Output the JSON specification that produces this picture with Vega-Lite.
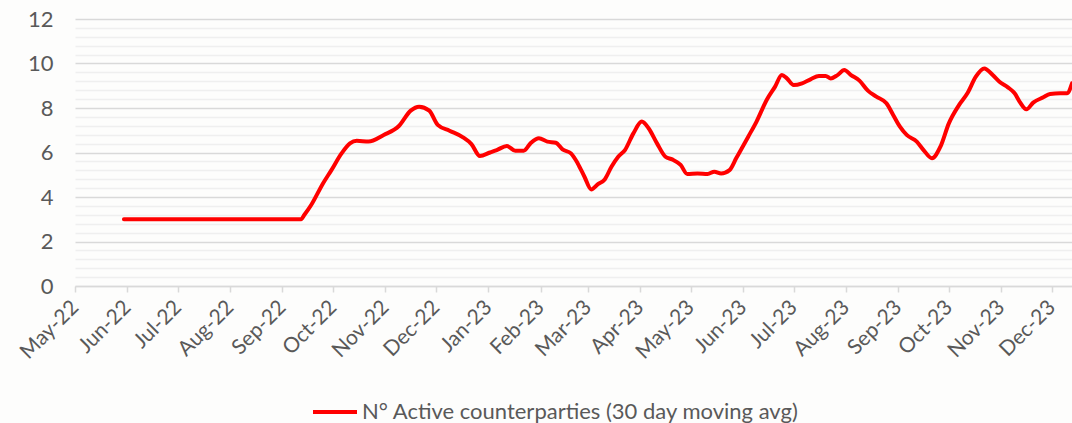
{
  "$schema": "https://vega.github.io/schema/vega-lite/v6.json",
  "width": 997,
  "height": 267,
  "autosize": {"type": "none"},
  "padding": {"left": 75, "top": 19, "right": 0, "bottom": 137},
  "background": "#fdfdfc",
  "config": {"view": {"stroke": null}, "font": "Lato"},
  "data": {
    "values": [
      {"date": "2022-05-30", "value": 3.0},
      {"date": "2022-09-12", "value": 3.0},
      {"date": "2022-09-14", "value": 3.2},
      {"date": "2022-09-18", "value": 3.64},
      {"date": "2022-09-25", "value": 4.61},
      {"date": "2022-09-30", "value": 5.21},
      {"date": "2022-10-06", "value": 5.96},
      {"date": "2022-10-11", "value": 6.41},
      {"date": "2022-10-15", "value": 6.53},
      {"date": "2022-10-22", "value": 6.49},
      {"date": "2022-10-31", "value": 6.79},
      {"date": "2022-11-09", "value": 7.19},
      {"date": "2022-11-16", "value": 7.88},
      {"date": "2022-11-21", "value": 8.06},
      {"date": "2022-11-27", "value": 7.88},
      {"date": "2022-12-02", "value": 7.24},
      {"date": "2022-12-09", "value": 6.98},
      {"date": "2022-12-17", "value": 6.68},
      {"date": "2022-12-22", "value": 6.38},
      {"date": "2022-12-27", "value": 5.84},
      {"date": "2023-01-02", "value": 6.0},
      {"date": "2023-01-06", "value": 6.11},
      {"date": "2023-01-12", "value": 6.29},
      {"date": "2023-01-17", "value": 6.08},
      {"date": "2023-01-22", "value": 6.08},
      {"date": "2023-01-26", "value": 6.41},
      {"date": "2023-01-31", "value": 6.64},
      {"date": "2023-02-05", "value": 6.49},
      {"date": "2023-02-10", "value": 6.44},
      {"date": "2023-02-14", "value": 6.14},
      {"date": "2023-02-19", "value": 5.96},
      {"date": "2023-02-23", "value": 5.51},
      {"date": "2023-02-27", "value": 4.91},
      {"date": "2023-03-03", "value": 4.34},
      {"date": "2023-03-07", "value": 4.58},
      {"date": "2023-03-11", "value": 4.79},
      {"date": "2023-03-15", "value": 5.36},
      {"date": "2023-03-19", "value": 5.81},
      {"date": "2023-03-23", "value": 6.11},
      {"date": "2023-03-28", "value": 6.86},
      {"date": "2023-04-02", "value": 7.39},
      {"date": "2023-04-06", "value": 7.09},
      {"date": "2023-04-11", "value": 6.41},
      {"date": "2023-04-16", "value": 5.81},
      {"date": "2023-04-20", "value": 5.69},
      {"date": "2023-04-25", "value": 5.44},
      {"date": "2023-04-29", "value": 5.03},
      {"date": "2023-05-05", "value": 5.06},
      {"date": "2023-05-11", "value": 5.03},
      {"date": "2023-05-15", "value": 5.14},
      {"date": "2023-05-19", "value": 5.06},
      {"date": "2023-05-24", "value": 5.21},
      {"date": "2023-05-28", "value": 5.75},
      {"date": "2023-06-04", "value": 6.7},
      {"date": "2023-06-09", "value": 7.39},
      {"date": "2023-06-15", "value": 8.36},
      {"date": "2023-06-20", "value": 8.96},
      {"date": "2023-06-24", "value": 9.48},
      {"date": "2023-06-27", "value": 9.33},
      {"date": "2023-07-01", "value": 9.03},
      {"date": "2023-07-06", "value": 9.11},
      {"date": "2023-07-11", "value": 9.29},
      {"date": "2023-07-16", "value": 9.44},
      {"date": "2023-07-20", "value": 9.44},
      {"date": "2023-07-23", "value": 9.33},
      {"date": "2023-07-27", "value": 9.48},
      {"date": "2023-07-31", "value": 9.71},
      {"date": "2023-08-04", "value": 9.48},
      {"date": "2023-08-09", "value": 9.23},
      {"date": "2023-08-14", "value": 8.78},
      {"date": "2023-08-19", "value": 8.51},
      {"date": "2023-08-25", "value": 8.21},
      {"date": "2023-08-29", "value": 7.69},
      {"date": "2023-09-02", "value": 7.16},
      {"date": "2023-09-06", "value": 6.79},
      {"date": "2023-09-12", "value": 6.49},
      {"date": "2023-09-16", "value": 6.11},
      {"date": "2023-09-21", "value": 5.74},
      {"date": "2023-09-26", "value": 6.26},
      {"date": "2023-10-01", "value": 7.31},
      {"date": "2023-10-07", "value": 8.13},
      {"date": "2023-10-12", "value": 8.66},
      {"date": "2023-10-17", "value": 9.41},
      {"date": "2023-10-22", "value": 9.78},
      {"date": "2023-10-27", "value": 9.48},
      {"date": "2023-10-31", "value": 9.18},
      {"date": "2023-11-05", "value": 8.93},
      {"date": "2023-11-09", "value": 8.66},
      {"date": "2023-11-12", "value": 8.28},
      {"date": "2023-11-16", "value": 7.94},
      {"date": "2023-11-20", "value": 8.24},
      {"date": "2023-11-26", "value": 8.48},
      {"date": "2023-11-30", "value": 8.63},
      {"date": "2023-12-06", "value": 8.66},
      {"date": "2023-12-10", "value": 8.66},
      {"date": "2023-12-13", "value": 9.11}
    ]
  },
  "mark": {"type": "line", "color": "#ff0000", "strokeWidth": 4, "strokeCap": "round", "strokeJoin": "round", "interpolate": "monotone", "clip": true},
  "encoding": {
    "x": {
      "field": "date",
      "type": "temporal",
      "scale": {"type": "utc", "domain": [{"year": 2022, "month": 5, "date": 1, "utc": true}, {"year": 2023, "month": 12, "date": 13, "utc": true}]},
      "axis": {
        "title": null,
        "grid": false,
        "tickCount": {"interval": "month", "step": 1},
        "labelExpr": "utcFormat(datum.value, '%b-%y')",
        "labelAngle": -45,
        "labelAlign": "right",
        "labelBaseline": "middle",
        "labelFlush": false,
        "labelOverlap": false,
        "labelBound": false,
        "labelPadding": 12,
        "labelFontSize": 21,
        "labelColor": "#595959",
        "domainColor": "#d9d9d9",
        "domainWidth": 1.5,
        "tickColor": "#d9d9d9",
        "tickWidth": 1.5,
        "tickSize": 6
      }
    },
    "y": {
      "field": "value",
      "type": "quantitative",
      "scale": {"domain": [0, 12], "nice": false},
      "axis": {
        "title": null,
        "values": [0, 0.4, 0.8, 1.2, 1.6, 2, 2.4, 2.8, 3.2, 3.6, 4, 4.4, 4.8, 5.2, 5.6, 6, 6.4, 6.8, 7.2, 7.6, 8, 8.4, 8.8, 9.2, 9.6, 10, 10.4, 10.8, 11.2, 11.6, 12],
        "labelExpr": "datum.value % 2 === 0 ? format(datum.value, 'd') : ''",
        "domain": false,
        "ticks": false,
        "labelPadding": 22,
        "labelFontSize": 22,
        "labelColor": "#595959",
        "gridColor": {"condition": {"test": "datum.value % 2 === 0", "value": "#d9d9d9"}, "value": "#efefef"},
        "gridWidth": 1.5
      }
    },
    "color": {
      "datum": "N° Active counterparties (30 day moving avg)",
      "scale": {"range": ["#ff0000"]},
      "legend": {
        "title": null,
        "orient": "none",
        "legendX": 236,
        "legendY": 369,
        "padding": 0,
        "symbolType": "stroke",
        "symbolStrokeWidth": 4,
        "symbolSize": 1936,
        "symbolStrokeColor": "#ff0000",
        "labelOffset": 3,
        "labelFontSize": 22,
        "labelColor": "#595959",
        "labelLimit": 0
      }
    }
  }
}
